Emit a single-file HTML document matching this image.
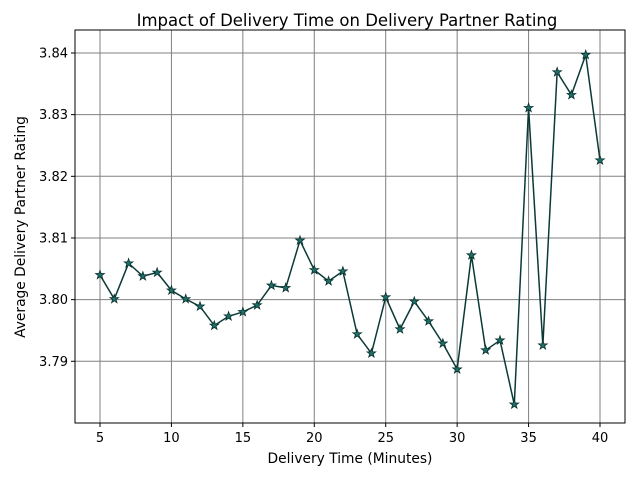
<!DOCTYPE html>
<html><head><meta charset="utf-8"><style>
body{margin:0;background:#fff;}
svg text{font-family:"DejaVu Sans","Liberation Sans",sans-serif;fill:#000;}
</style></head><body>
<svg id="chart" width="640" height="480" xmlns="http://www.w3.org/2000/svg">
<rect width="640" height="480" fill="#fff"/>
<text x="347" y="26" font-size="16.5" text-anchor="middle">Impact of Delivery Time on Delivery Partner Rating</text>
<text x="350" y="463" font-size="13.8" text-anchor="middle">Delivery Time (Minutes)</text>
<text transform="translate(25,227) rotate(-90)" font-size="13.8" text-anchor="middle">Average Delivery Partner Rating</text>
<g id="grid"></g><g id="axes"></g><g id="series"></g>
</svg>
<script>
const times=[5,6,7,8,9,10,11,12,13,14,15,16,17,18,19,20,21,22,23,24,25,26,27,28,29,30,31,32,33,34,35,36,37,38,39,40];
const ratings=[3.8040,3.8001,3.8059,3.8038,3.8044,3.8015,3.8001,3.7989,3.7958,3.7973,3.7980,3.7991,3.8023,3.8019,3.8096,3.8048,3.8030,3.8046,3.7944,3.7913,3.8004,3.7952,3.7997,3.7965,3.7929,3.7887,3.8072,3.7918,3.7934,3.7830,3.8311,3.7926,3.8369,3.8332,3.8397,3.8226];
const xTicks=[5,10,15,20,25,30,35,40];
const yTicks=[3.79,3.80,3.81,3.82,3.83,3.84];
const yTickLabels=["3.79","3.80","3.81","3.82","3.83","3.84"];
const L=75,R=625,T=30,B=423;
const xMin=3.25,xMax=41.75,yMin=3.77999,yMax=3.84373;
const xs=v=>L+(v-xMin)/(xMax-xMin)*(R-L);
const ys=v=>B-(v-yMin)/(yMax-yMin)*(B-T);
const NS="http://www.w3.org/2000/svg";
function mk(tag,attrs,parent){const e=document.createElementNS(NS,tag);for(const k in attrs)e.setAttribute(k,attrs[k]);parent.appendChild(e);return e;}
const grid=document.getElementById('grid'),axes=document.getElementById('axes'),series=document.getElementById('series');
xTicks.forEach(t=>{const x=xs(t);
 const g=mk('line',{x1:x,x2:x,y1:T,y2:B,stroke:'#808080','stroke-width':1},grid);
 
 
 mk('line',{x1:x,x2:x,y1:B,y2:B+4,stroke:'#000'},axes);
 const tx=mk('text',{x:x,y:B+19,'font-size':13,'text-anchor':'middle'},axes);tx.textContent=t;
 
 
});
yTicks.forEach((t,i)=>{const y=ys(t);
 const g=mk('line',{x1:L,x2:R,y1:y,y2:y,stroke:'#808080','stroke-width':1},grid);
 
 
 mk('line',{x1:L-4,x2:L,y1:y,y2:y,stroke:'#000'},axes);
 const tx=mk('text',{x:L-7,y:y+4.5,'font-size':13,'text-anchor':'end'},axes);tx.textContent=yTickLabels[i];
 
 
});
const frame=mk('rect',{x:L,y:T,width:R-L,height:B-T,fill:'none',stroke:'#000','stroke-width':1},axes);


const pts=times.map((t,i)=>xs(t)+','+ys(ratings[i])).join(' ');
const line=mk('polyline',{points:pts,fill:'none',stroke:'#0a3a35','stroke-width':1.5},series);


function star(cx,cy,r){let p=[];for(let k=0;k<10;k++){const a=-Math.PI/2+k*Math.PI/5;const rr=k%2?r*0.4:r;p.push((cx+rr*Math.cos(a)).toFixed(2)+','+(cy+rr*Math.sin(a)).toFixed(2));}return p.join(' ');}
times.forEach((t,i)=>{
 const s=mk('polygon',{points:star(xs(t),ys(ratings[i]),4.6),fill:'#1f6f6a',stroke:'#08302c','stroke-width':0.8},series);
 
 
});
</script>
</body></html>
